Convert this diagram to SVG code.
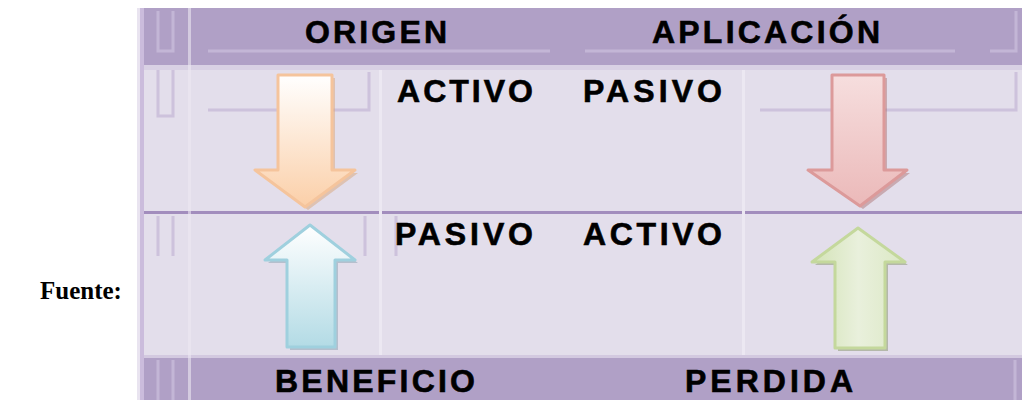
<svg xmlns="http://www.w3.org/2000/svg" width="1022" height="400" viewBox="0 0 1022 400">
  <defs>
    <linearGradient id="gOrange" x1="0" y1="0" x2="0" y2="1">
      <stop offset="0" stop-color="#ffffff"/>
      <stop offset="1" stop-color="#fbcfa8"/>
    </linearGradient>
    <linearGradient id="gRed" x1="0" y1="0" x2="0" y2="1">
      <stop offset="0" stop-color="#f6dede"/>
      <stop offset="1" stop-color="#ebb9b9"/>
    </linearGradient>
    <linearGradient id="gBlue" x1="0" y1="0" x2="0" y2="1">
      <stop offset="0" stop-color="#ffffff"/>
      <stop offset="1" stop-color="#b3dbe5"/>
    </linearGradient>
    <linearGradient id="gGreen" x1="0" y1="0" x2="1" y2="0">
      <stop offset="0" stop-color="#d3e3b6"/>
      <stop offset="0.5" stop-color="#e9f0dc"/>
      <stop offset="1" stop-color="#dbe8c4"/>
    </linearGradient>
  </defs>
  <style>
    .band { fill: #b0a0c6; }
    .body { fill: #e3deeb; }
    .hl { fill: #ece8f2; }
    .deco { fill: none; stroke: #c3b6d6; stroke-width: 3; }
    .lbl { font-family: "Liberation Sans", Arial, sans-serif; font-weight: bold; font-size: 32px; fill: #000000; stroke: #000000; stroke-width: 0.6px; }
    .src { font-family: "Liberation Serif", "Times New Roman", serif; font-weight: bold; font-size: 25px; fill: #000000; }
  </style>
  <rect x="0" y="0" width="1022" height="400" fill="#ffffff"/>

  <g id="table">
    <rect x="137" y="8" width="885" height="392" class="body"/>
    <rect x="137" y="8" width="3" height="392" fill="#e9e4f0"/>
    <rect x="140" y="8" width="4" height="392" fill="#cbbcdc"/>
    <rect x="144" y="8" width="878" height="57" class="band"/>
    <rect x="144" y="65" width="878" height="5" fill="#d9d1e4"/>
    <rect x="144" y="355" width="878" height="3" fill="#d3c9e0"/>
    <rect x="144" y="358" width="878" height="42" class="band"/>
    <rect x="144" y="211" width="878" height="3" fill="#a28dbd"/>
    <rect x="188" y="8" width="3" height="392" fill="#ece8f2" opacity="0.6"/>
    <rect x="379" y="70" width="3" height="285" class="hl"/>
    <rect x="742" y="70" width="3" height="285" class="hl"/>
    <path class="deco" d="M158 11 V51 H173 V11"/>
    <path class="deco" d="M208 51 H550"/>
    <path class="deco" d="M585 51 H955 M990 51 H1016 V11"/>
    <path class="deco" d="M158 70 V116 H173 V70" stroke="#ece8f2" opacity="0.7"/>
    <path class="deco" d="M208 110 H369 V72" stroke="#ece8f2" opacity="0.7"/>
    <path class="deco" d="M760 110 H1016 V72" stroke="#ece8f2" opacity="0.7"/>
    <path class="deco" d="M158 216 V256 M173 216 V256 M365 216 V256 M396 216 V256" stroke="#ece8f2" opacity="0.7"/>
    <path class="deco" d="M158 360 V400 M173 360 V400 M1015 360 V400" stroke="#c3b6d6"/>
  </g>

  <g id="origen"><text class="lbl" x="305" y="43" textLength="142" lengthAdjust="spacing">ORIGEN</text></g>
  <g id="aplicacion"><text class="lbl" x="652" y="43" textLength="228" lengthAdjust="spacing">APLICACIÓN</text></g>
  <g id="activo-top"><text class="lbl" x="397" y="102" textLength="136" lengthAdjust="spacing">ACTIVO</text></g>
  <g id="pasivo-top"><text class="lbl" x="583" y="102" textLength="139" lengthAdjust="spacing">PASIVO</text></g>
  <g id="pasivo-bottom"><text class="lbl" x="395" y="245" textLength="138" lengthAdjust="spacing">PASIVO</text></g>
  <g id="activo-bottom"><text class="lbl" x="583" y="245" textLength="139" lengthAdjust="spacing">ACTIVO</text></g>
  <g id="beneficio"><text class="lbl" x="275" y="392" textLength="200" lengthAdjust="spacing">BENEFICIO</text></g>
  <g id="perdida"><text class="lbl" x="685" y="392" textLength="168" lengthAdjust="spacing">PERDIDA</text></g>
  <g id="fuente"><text class="src" x="40" y="299">Fuente:</text></g>

  <g id="arrows">
    <g id="arrow-orange">
      <path d="M281 78 H335 V173 H358 L308 210 L258 173 H281 Z" fill="#d9a57a" opacity="0.5"/>
      <path d="M278 75 H332 V170 H355 L305 207 L255 170 H278 Z" fill="url(#gOrange)" stroke="#f5c49c" stroke-width="3" stroke-linejoin="round"/>
    </g>
    <g id="arrow-red">
      <path d="M835 78 H887 V173 H910 L863 209 L811 173 H835 Z" fill="#a86a6a" opacity="0.45"/>
      <path d="M832 75 H884 V170 H907 L860 206 L808 170 H832 Z" fill="url(#gRed)" stroke="#dc9a9a" stroke-width="3" stroke-linejoin="round"/>
    </g>
    <g id="arrow-blue">
      <path d="M313 228 L358 263 H338 V350 H290 V263 H268 Z" fill="#7d98a8" opacity="0.45"/>
      <path d="M310 225 L355 260 H335 V347 H287 V260 H265 Z" fill="url(#gBlue)" stroke="#9fd0de" stroke-width="3" stroke-linejoin="round"/>
    </g>
    <g id="arrow-green">
      <path d="M861 231 L908 265 H888 V351 H838 V265 H815 Z" fill="#7a8a5c" opacity="0.45"/>
      <path d="M858 228 L905 262 H885 V348 H835 V262 H812 Z" fill="url(#gGreen)" stroke="#c4d89c" stroke-width="3" stroke-linejoin="round"/>
    </g>
  </g>
</svg>
